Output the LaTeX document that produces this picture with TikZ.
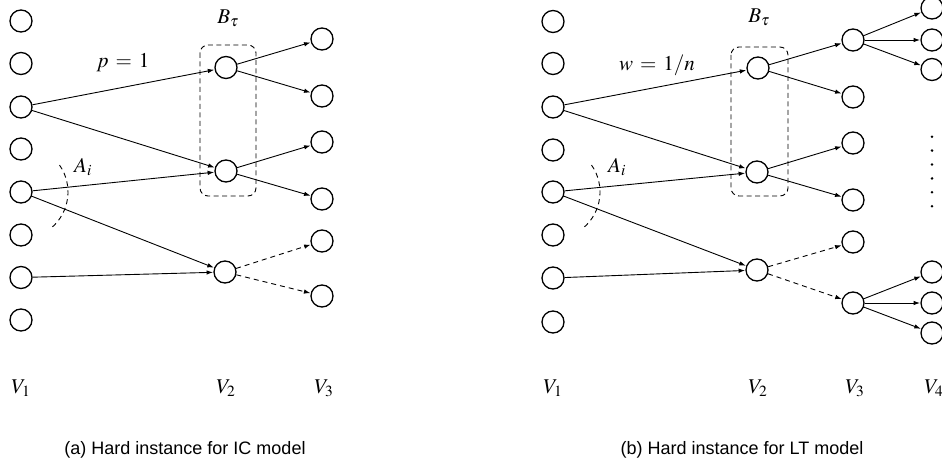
\documentclass[tikz,border=0pt]{standalone}
\usepackage{mathptmx}
\usepackage[no-math]{fontspec}
\newfontfamily\capfont{Liberation Sans}
\usetikzlibrary{arrows.meta}
\tikzset{
  vtx/.style={circle,draw,line width=1.3pt,minimum size=22pt,inner sep=0pt,fill=white},
  edge/.style={line width=0.9pt,-{Latex[length=6.5pt,width=4.5pt]},shorten >=0.3pt},
  dedge/.style={edge,dash pattern=on 5pt off 4pt},
  grp/.style={draw,line width=0.9pt,dash pattern=on 5pt off 3.5pt,rounded corners=8pt},
  mlab/.style={inner sep=0pt,font=\fontsize{21}{25}\selectfont},
  captxt/.style={inner sep=0pt,font=\capfont\fontsize{18}{22}\selectfont},
}
\begin{document}
\begin{tikzpicture}[x=1pt,y=-1pt]
\useasboundingbox (0,0) rectangle (942,465);
% ---------- left panel ----------
\foreach \i/\y in {1/21,2/63.5,3/107,4/149,5/192,6/235,7/277.5,8/320}
  \node[vtx] (a\i) at (21,\y) {};
\node[vtx] (b1) at (226,67.5) {};
\node[vtx] (b2) at (226,171) {};
\node[vtx] (b3) at (225,272) {};
\foreach \i/\y in {1/39,2/96,3/142,4/199,5/241,6/296}
  \node[vtx] (c\i) at (322,\y) {};
\draw[grp] (200,45) rectangle (256,196);
\draw[edge] (a3) -- (b1);
\draw[edge] (a3) -- (b2);
\draw[edge] (a5) -- (b2);
\draw[edge] (a5) -- (b3);
\draw[edge] (a7) -- (b3);
\draw[edge] (b1) -- (c1);
\draw[edge] (b1) -- (c2);
\draw[edge] (b2) -- (c3);
\draw[edge] (b2) -- (c4);
\draw[dedge] (b3) -- (c5);
\draw[dedge] (b3) -- (c6);
\draw[line width=0.9pt,dash pattern=on 5pt off 4pt] (a5) ++(35:47pt) arc[start angle=35,end angle=-50,radius=47pt];
\node[mlab] (lb) at (228,18) {$B_\tau$};
\node[mlab] (lp) at (123,63) {$p\,=\,1$};
\node[mlab] (la) at (83,167) {$A_i$};
\node[mlab] (v11) at (21,388) {$V_1$};
\node[mlab] (v12) at (226,388) {$V_2$};
\node[mlab] (v13) at (324,388) {$V_3$};
\node[captxt] (capa) at (185,450) {(a) Hard instance for IC model};
% ---------- right panel ----------
\foreach \i/\y in {1/21.5,2/63.5,3/107,4/150,5/192,6/235,7/278,8/322}
  \node[vtx] (d\i) at (553,\y) {};
\node[vtx] (e1) at (758,68) {};
\node[vtx] (e2) at (757,172) {};
\node[vtx] (e3) at (757,270) {};
\foreach \i/\y in {1/40,2/97,3/143,4/200,5/242,6/303}
  \node[vtx] (f\i) at (853,\y) {};
\foreach \i/\y in {1/8,2/40,3/69.5,4/272,5/303,6/333}
  \node[vtx] (g\i) at (932,\y) {};
\draw[grp] (731,47) rectangle (788,196);
\draw[edge] (d3) -- (e1);
\draw[edge] (d3) -- (e2);
\draw[edge] (d5) -- (e2);
\draw[edge] (d5) -- (e3);
\draw[edge] (d7) -- (e3);
\draw[edge] (e1) -- (f1);
\draw[edge] (e1) -- (f2);
\draw[edge] (e2) -- (f3);
\draw[edge] (e2) -- (f4);
\draw[dedge] (e3) -- (f5);
\draw[dedge] (e3) -- (f6);
\draw[edge] (f1) -- (g1);
\draw[edge] (f1) -- (g2);
\draw[edge] (f1) -- (g3);
\draw[edge] (f6) -- (g4);
\draw[edge] (f6) -- (g5);
\draw[edge] (f6) -- (g6);
\draw[line width=0.9pt,dash pattern=on 5pt off 4pt] (d5) ++(35:47pt) arc[start angle=35,end angle=-50,radius=47pt];
\foreach \y in {136.7,150.6,164.5,178.4,192.3,206.2}
  \fill (932,\y) circle[radius=1.4pt];
\node[mlab] (rb) at (759,17) {$B_\tau$};
\node[mlab] (rw) at (657,65) {$w\,=\,1/n$};
\node[mlab] (ra) at (617,167) {$A_i$};
\node[mlab] (v21) at (553,388) {$V_1$};
\node[mlab] (v22) at (758,388) {$V_2$};
\node[mlab] (v23) at (855,388) {$V_3$};
\node[mlab] (v24) at (934,388) {$V_4$};
\node[captxt] (capb) at (742,450) {(b) Hard instance for LT model};
\end{tikzpicture}
\end{document}
